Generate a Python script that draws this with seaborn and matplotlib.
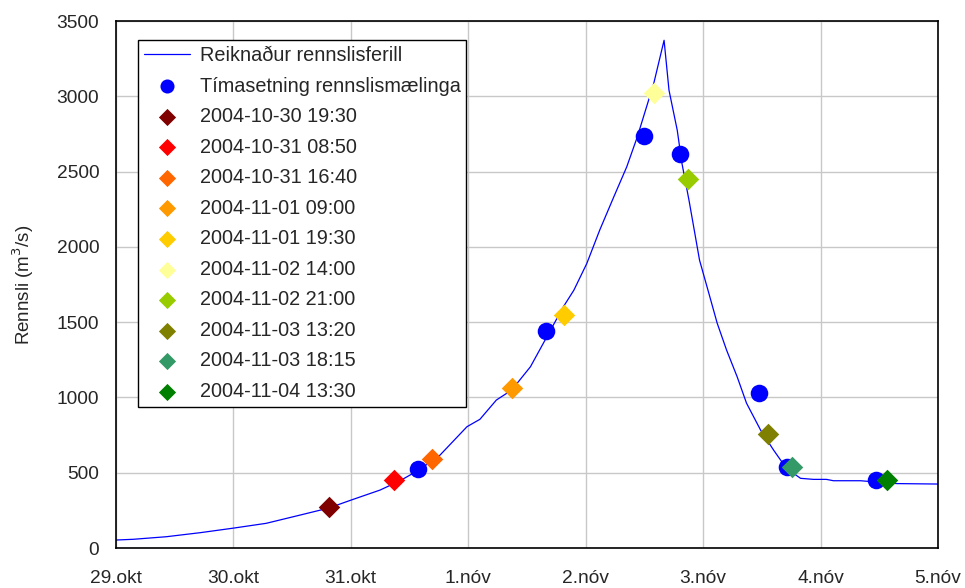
import matplotlib
matplotlib.use("Agg")
import matplotlib.pyplot as plt
import seaborn as sns
import pandas as pd

# Tími í dögum frá 29.okt 00:00
ferill_t = [0.0, 0.15, 0.43, 0.72, 1.0, 1.28, 1.57, 1.81, 2.02, 2.25, 2.42, 2.58,
            2.76, 2.99, 3.1, 3.24, 3.37, 3.53, 3.67, 3.81, 3.9, 4.01, 4.12, 4.24,
            4.35, 4.44, 4.58, 4.668, 4.71, 4.78, 4.82, 4.88, 4.92, 4.97, 5.05,
            5.12, 5.2, 5.29, 5.37, 5.49, 5.6, 5.68, 5.77, 5.83, 5.94, 6.05, 6.11,
            6.34, 6.45, 6.65, 7.0]
ferill_q = [53, 58, 75, 102, 132, 164, 219, 265, 323, 385, 447, 518,
            617, 806, 855, 983, 1049, 1204, 1403, 1602, 1713, 1890, 2112, 2333,
            2532, 2731, 3086, 3373, 3041, 2776, 2556, 2311, 2134, 1912, 1690,
            1494, 1315, 1138, 962, 783, 651, 562, 496, 463, 456, 456, 447,
            447, 440, 428, 425]

maeling_t = [2.572, 3.663, 4.497, 4.804, 5.477, 5.716, 6.474]
maeling_q = [527, 1440, 2740, 2620, 1030, 535, 450]

tima_merki = ["2004-10-30 19:30", "2004-10-31 08:50", "2004-10-31 16:40",
              "2004-11-01 09:00", "2004-11-01 19:30", "2004-11-02 14:00",
              "2004-11-02 21:00", "2004-11-03 13:20", "2004-11-03 18:15",
              "2004-11-04 13:30"]
tima_q = [270, 450, 590, 1060, 1545, 3020, 2450, 755, 540, 450]
tima_litir = ["#800000", "#FF0000", "#FF6600", "#FF9900", "#FFCC00", "#FFFF99",
              "#99CC00", "#808000", "#339966", "#008000"]

x_merki = ["29.okt", "30.okt", "31.okt", "1.nóv", "2.nóv", "3.nóv", "4.nóv", "5.nóv"]

upphaf = pd.Timestamp("2004-10-29 00:00")
tima_t = [(pd.Timestamp(s) - upphaf) / pd.Timedelta(days=1) for s in tima_merki]

sns.set_style("white")
plt.rcParams['font.family'] = ['Liberation Sans', 'DejaVu Sans']

fig = plt.figure(figsize=(9.65, 5.88), dpi=100)
ax = fig.add_axes([0.120, 0.068, 0.852, 0.896])

sns.lineplot(x=ferill_t, y=ferill_q, ax=ax, color="#0000FF", linewidth=0.9,
             label="Reiknaður rennslisferill", sort=False, estimator=None)
sns.scatterplot(x=maeling_t, y=maeling_q, ax=ax, color="#0000FF", s=160,
                linewidth=0, label="Tímasetning rennslismælinga", zorder=3)
for t, q, c, lab in zip(tima_t, tima_q, tima_litir, tima_merki):
    sns.scatterplot(x=[t], y=[q], ax=ax, color=c, marker="D", s=120,
                    linewidth=0, label=lab, zorder=4)

ax.set_xlim(0, 7)
ax.set_ylim(0, 3500)
ax.set_xticks(range(8))
ax.set_xticklabels(x_merki)
ax.set_yticks(range(0, 3501, 500))
ax.grid(True, color="#C8C8C8", linewidth=1)
ax.set_axisbelow(True)
for sp in ax.spines.values():
    sp.set_color("black")
    sp.set_linewidth(1.2)
ax.tick_params(axis="both", direction="out", length=5, width=1, color="black",
               labelsize=13.8)
ax.tick_params(axis="x", pad=11)
ax.tick_params(axis="y", pad=7)
ax.set_xlabel("")
ax.set_ylabel("Rennsli (m$^3$/s)", fontsize=13.5, labelpad=15)

leg = ax.legend(loc="upper left", bbox_to_anchor=(0.027, 0.964), fontsize=14.3,
                frameon=True, fancybox=False, edgecolor="black", framealpha=1,
                borderpad=0.3, labelspacing=0.58, handlelength=2.3,
                handletextpad=0.5, markerscale=0.8, borderaxespad=0)
leg.get_frame().set_linewidth(1)

fig.savefig("out.png", dpi=100)
